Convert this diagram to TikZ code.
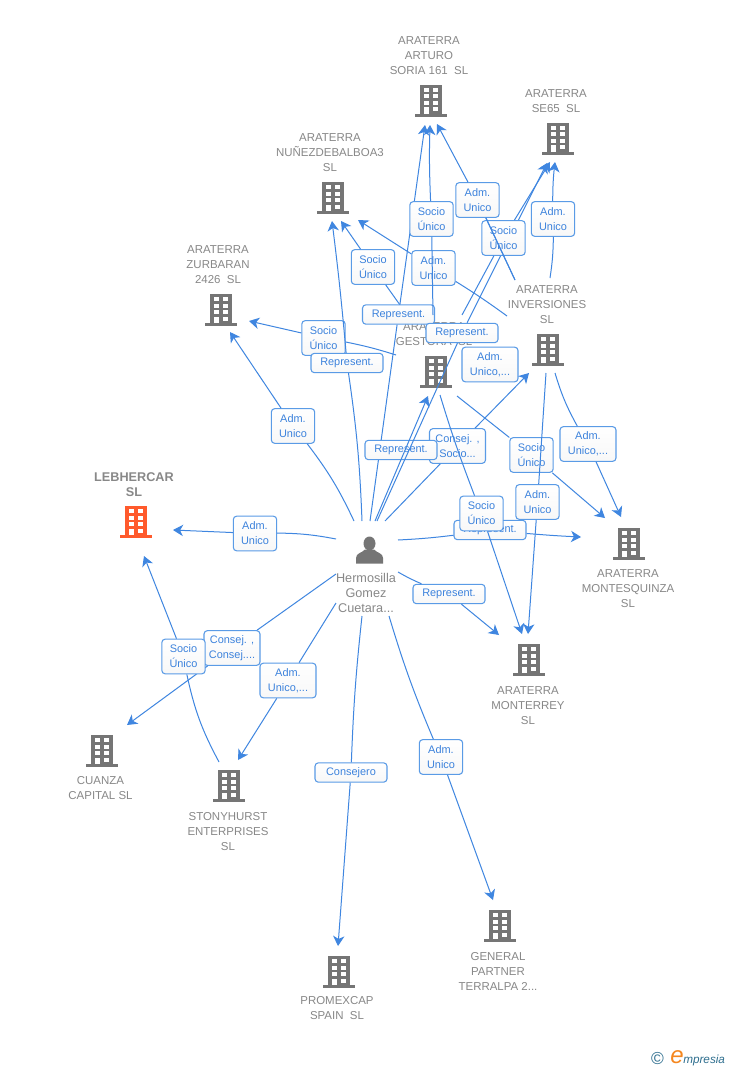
\documentclass[tikz,border=0pt]{standalone}
\usepackage{fontspec}
\setmainfont{Liberation Sans}
\usetikzlibrary{arrows.meta}
\definecolor{linkblue}{HTML}{3F86E0}
\definecolor{boxblue}{HTML}{5A9BE6}
\definecolor{labtext}{HTML}{3C82DC}
\definecolor{icongray}{HTML}{757575}
\definecolor{textgray}{HTML}{888888}
\definecolor{hotorange}{HTML}{FF5A2C}
\definecolor{logoteal}{HTML}{2F6F8F}
\definecolor{logoorange}{HTML}{F5871F}
\tikzset{
  rel/.style={draw=linkblue,line width=0.75pt},
  relarrow/.style={rel,-{Stealth[length=7.5pt,width=8.5pt,inset=2.2pt]}},
  labbox/.style={draw=boxblue,line width=0.8pt,rounded corners=2.5pt,top color=white,bottom color=black!3,
    text=labtext,font=\fontsize{8.2}{11.25}\selectfont,align=center,inner sep=0pt},
  twoline/.style={labbox,minimum width=32.5pt,minimum height=26pt},
  wideline/.style={labbox,minimum width=42pt,minimum height=26pt},
  oneline/.style={labbox,minimum width=54pt,minimum height=14.5pt},
  firmname/.style={text=textgray,font=\fontsize{8.6}{11.25}\selectfont,align=center,inner sep=0pt},
}
% building icon, with a named invisible node as its anchor
\newcommand{\Bld}[4]{%
  \begin{scope}[shift={(#2,#3)}]
    \node[minimum width=24pt,minimum height=24pt,inner sep=0pt] (#1) at (0,0) {};
    \fill[#4] (-11,-16) rectangle (11,14);
    \fill[#4] (-16,13) rectangle (16,16);
    \foreach \wy in {-13,-6.5,0}{
      \fill[white] (-7,\wy) rectangle (-2,\wy+4);
      \fill[white] (2,\wy) rectangle (7,\wy+4);
    }
    \fill[white] (2,6.5) rectangle (7,10.5);
    \fill[white] (-7,6.5) rectangle (-2,13);
  \end{scope}}
% edge: id, start, label style, label position, label text, end, bend1, bend2
\newcommand{\Edge}[8]{%
  \coordinate (#1-s) at (#2);
  \coordinate (#1-e) at (#6);
  \node[#3] (#1-l) at (#4) {#5};
  \draw[rel] (#1-s) to[bend left=#7] (#1-l);
  \draw[relarrow] (#1-l) to[bend left=#8] (#1-e);}
\begin{document}
\begin{tikzpicture}[x=0.75pt,y=-0.75pt]
\useasboundingbox (0,0) rectangle (728,1070);
\fill[white] (0,0) rectangle (728,1070);

% firm names
\node[firmname] (tArturo) at (429,55.5) {ARATERRA\\ARTURO\\SORIA 161~ SL};
\node[firmname] (tSe) at (556,101.5) {ARATERRA\\SE65~ SL};
\node[firmname] (tNunez) at (330,153) {ARATERRA\\NUÑEZDEBALBOA3\\SL};
\node[firmname] (tZurb) at (218,265) {ARATERRA\\ZURBARAN\\2426~ SL};
\node[firmname] (tInv) at (547,305) {ARATERRA\\INVERSIONES\\SL};
\node[firmname] (tGest) at (434,334.5) {ARATERRA\\GESTORA~ SL};
\node[firmname,font=\bfseries\fontsize{9.5}{11.25}\selectfont] (tLeb) at (134,485) {LEBHERCAR\\SL};
\node[firmname] (tMonq) at (628,589) {ARATERRA\\MONTESQUINZA\\SL};
\node[firmname] (tMont) at (528,706) {ARATERRA\\MONTERREY\\SL};
\node[firmname] (tCuan) at (100.5,788.5) {CUANZA\\CAPITAL SL};
\node[firmname] (tSton) at (228,831.5) {STONYHURST\\ENTERPRISES\\SL};
\node[firmname] (tProm) at (337,1008.5) {PROMEXCAP\\SPAIN~ SL};
\node[firmname] (tGen) at (498,971.5) {GENERAL\\PARTNER\\TERRALPA 2...};
\node[firmname,font=\fontsize{9.5}{11.25}\selectfont] (tPers) at (366,592.5) {Hermosilla\\Gomez\\Cuetara...};

% icons
\Bld{bArturo}{431}{101}{icongray}
\Bld{bSe}{558}{139}{icongray}
\Bld{bNunez}{332.5}{198}{icongray}
\Bld{bZurb}{221}{310}{icongray}
\Bld{bGest}{436}{372}{icongray}
\Bld{bInv}{548}{350}{icongray}
\Bld{bLeb}{136}{522}{hotorange}
\Bld{bMonq}{629}{544}{icongray}
\Bld{bMont}{529}{660}{icongray}
\Bld{bCuan}{102}{751}{icongray}
\Bld{bSton}{229}{786}{icongray}
\Bld{bProm}{339}{972}{icongray}
\Bld{bGen}{500}{926}{icongray}
\node[minimum width=20pt,minimum height=20pt,inner sep=0pt] (person) at (369.5,550) {};
\fill[icongray] (369.5,543.5) ellipse (6 and 7);
\fill[icongray] (356,563.5) -- (356,558) .. controls (356,553) and (362,553) .. (365,549.5)
  -- (374,549.5) .. controls (377,553) and (383,553) .. (383,558) -- (383,563.5) -- cycle;

% connectors and their labels
\Edge{a1}{336,539}{twoline}{255,533.5}{Adm.\\Unico}{173,530}{-5}{0}
\Edge{a2}{354,521}{twoline}{293,426}{Adm.\\Unico}{230,332}{-6}{0}
\Edge{a3}{396,355}{twoline}{323.5,338}{Socio\\Único}{249,321}{-3}{0}
\Edge{a4}{362,521}{oneline}{347,363}{Represent.}{332,221}{-3}{-1}
\Edge{a5}{507,316}{twoline}{433.5,268}{Adm.\\Unico}{358,220}{-2}{0}
\Edge{a6}{400,305}{twoline}{373,267}{Socio\\Único}{341,221}{0}{0}
\Edge{a7}{370,521}{oneline}{398.5,314.5}{Represent.}{425,125}{0}{0}
\Edge{a8}{433,315}{twoline}{431.5,219}{Socio\\Único}{430,125}{0}{2}
\node[twoline,minimum width=42pt] (a9-l) at (490,364.5) {Adm.\\Unico,...};
\coordinate (a10-e) at (547,163);
\node[oneline] (a10-l) at (462,333) {Represent.};
\draw[relarrow] (a10-l) -- (a10-e);
\Edge{a11}{462,315}{twoline}{503.5,238}{Socio\\Único}{550,162}{0}{0}
\Edge{a12}{515,280}{twoline}{477.5,200}{Adm.\\Unico}{437,124}{0}{0}
\draw[rel] (a12-s) -- (a12-l);
\Edge{a13}{550,278}{twoline}{553,219}{Adm.\\Unico}{555,162}{-4}{3}
\Edge{a14}{385,521}{wideline}{457.5,446}{Consej. ,\\Socio...}{529,373}{0}{0}
\node[oneline] (a15-l) at (401,450) {Represent.};
\coordinate (a15-s) at (375,521);
\coordinate (a15-e) at (428,396);
\draw[relarrow] (a15-s) -- (a15-e);
\coordinate (a15b-s) at (377,521);
\draw[rel] (a15b-s) -- (a10-l);
\Edge{a16}{398,540}{oneline}{490,530}{Represent.}{581,537}{-2}{-1}
\Edge{a17}{457,396}{twoline}{531.5,455}{Socio\\Único}{605,518}{0}{0}
\Edge{a18}{440,395}{twoline}{481.5,513.5}{Socio\\Único}{522,634}{-2}{0}
\Edge{a19}{546,373}{twoline}{537.5,502}{Adm.\\Unico}{528,634}{0}{0}
\Edge{a20}{555,373}{wideline}{588,444}{Adm.\\Unico,...}{621,517}{-6}{0}
\Edge{a21}{398,572}{oneline}{449,594}{Represent.}{499,635}{-3}{0}
\Edge{a22}{336,574}{wideline}{232,648}{Consej. ,\\Consej....}{127,725}{0}{0}
\Edge{a23}{219,762}{twoline}{183.5,656.5}{Socio\\Único}{144,556}{8}{0}
\Edge{a24}{336,603}{wideline}{288,680.5}{Adm.\\Unico,...}{238,760}{0}{0}
\Edge{a25}{362,616}{oneline}{351,772.5}{Consejero}{338,946}{-2}{0}
\Edge{a26}{389,616}{twoline}{441,757}{Adm.\\Unico}{493,900}{-3}{0}

% credit
\node[inner sep=0pt,text=logoteal,font=\fontsize{13}{13}\selectfont] (logoC) at (657.5,1059) {©};
\node[inner sep=0pt,text=logoorange,font=\itshape\fontsize{18}{18}\selectfont] (logoE) at (677,1057) {e};
\node[inner sep=0pt,anchor=west,text=logoteal,font=\itshape\fontsize{8.8}{10}\selectfont] (logoT) at (683,1060) {mpresia};
\end{tikzpicture}
\end{document}
